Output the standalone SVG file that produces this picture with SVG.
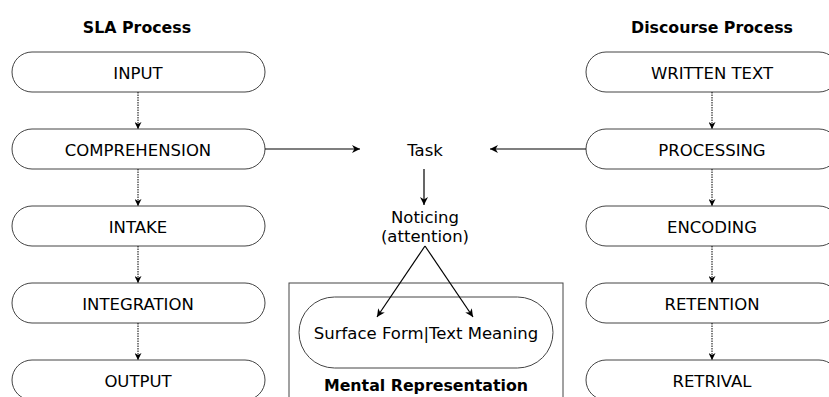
<svg xmlns="http://www.w3.org/2000/svg" width="829" height="397" viewBox="0 0 829 397">
<defs>
<marker id="dh" viewBox="0 0 10 10" refX="10" refY="5" markerWidth="7" markerHeight="7" orient="auto" markerUnits="userSpaceOnUse">
<path d="M0,0 L10,5 L0,10 L3,5 Z" fill="#000"/>
</marker>
<marker id="sh" viewBox="0 0 10 10" refX="10" refY="5" markerWidth="8" markerHeight="8" orient="auto" markerUnits="userSpaceOnUse">
<path d="M0,0 L10,5 L0,10 L3,5 Z" fill="#000"/>
</marker>
</defs>
<style>
.box{fill:#fff;stroke:#444;stroke-width:1}
.t{font-family:"DejaVu Sans",Verdana,sans-serif;font-size:16.5px;fill:#000;text-anchor:middle}
.b{font-family:"DejaVu Sans",Verdana,sans-serif;font-size:15.8px;font-weight:bold;fill:#000;text-anchor:middle}
.dot{stroke:#000;stroke-width:1;stroke-dasharray:1.5,1;fill:none}
.ar{stroke:#000;stroke-width:1.2;fill:none}
</style>
<rect width="829" height="397" fill="#fff"/>
<text class="b" x="137" y="33">SLA Process</text>
<text class="b" x="712" y="33">Discourse Process</text>

<g id="mental-rep">
<rect x="289" y="283" width="274" height="130" fill="#fff" stroke="#444" stroke-width="1"/>
<text class="b" x="426" y="391">Mental Representation</text>
</g>
<g id="surface">
<rect class="box" x="299" y="297" width="254" height="71" rx="35.5"/>
<text class="t" x="426" y="339">Surface Form|Text Meaning</text>
</g>

<g id="input"><rect class="box" x="12" y="52" width="253" height="40" rx="20"/><text class="t" x="138" y="79">INPUT</text></g>
<g id="comprehension"><rect class="box" x="12" y="129" width="253" height="40" rx="20"/><text class="t" x="138" y="156">COMPREHENSION</text></g>
<g id="intake"><rect class="box" x="12" y="206" width="253" height="40" rx="20"/><text class="t" x="138" y="233">INTAKE</text></g>
<g id="integration"><rect class="box" x="12" y="283" width="253" height="40" rx="20"/><text class="t" x="138" y="310">INTEGRATION</text></g>
<g id="output"><rect class="box" x="12" y="360" width="253" height="40" rx="20"/><text class="t" x="138" y="387">OUTPUT</text></g>

<g id="written"><rect class="box" x="586" y="52" width="253" height="40" rx="20"/><text class="t" x="712" y="79">WRITTEN TEXT</text></g>
<g id="processing"><rect class="box" x="586" y="129" width="253" height="40" rx="20"/><text class="t" x="712" y="156">PROCESSING</text></g>
<g id="encoding"><rect class="box" x="586" y="206" width="253" height="40" rx="20"/><text class="t" x="712" y="233">ENCODING</text></g>
<g id="retention"><rect class="box" x="586" y="283" width="253" height="40" rx="20"/><text class="t" x="712" y="310">RETENTION</text></g>
<g id="retrival"><rect class="box" x="586" y="360" width="253" height="40" rx="20"/><text class="t" x="712" y="387">RETRIVAL</text></g>

<g id="task"><text class="t" x="425" y="156">Task</text></g>
<g id="noticing"><text class="t" x="425" y="223">Noticing</text><text class="t" x="425" y="242">(attention)</text></g>

<g id="connectors">
<line class="dot" x1="138" y1="92" x2="138" y2="129" marker-end="url(#dh)"/>
<line class="dot" x1="138" y1="169" x2="138" y2="206" marker-end="url(#dh)"/>
<line class="dot" x1="138" y1="246" x2="138" y2="283" marker-end="url(#dh)"/>
<line class="dot" x1="138" y1="323" x2="138" y2="360" marker-end="url(#dh)"/>
<line class="dot" x1="712" y1="92" x2="712" y2="129" marker-end="url(#dh)"/>
<line class="dot" x1="712" y1="169" x2="712" y2="206" marker-end="url(#dh)"/>
<line class="dot" x1="712" y1="246" x2="712" y2="283" marker-end="url(#dh)"/>
<line class="dot" x1="712" y1="323" x2="712" y2="360" marker-end="url(#dh)"/>
<line class="ar" x1="265" y1="149" x2="360" y2="149" marker-end="url(#sh)"/>
<line class="ar" x1="586" y1="149" x2="490" y2="149" marker-end="url(#sh)"/>
<line class="ar" x1="424" y1="169" x2="424" y2="205" marker-end="url(#sh)"/>
<line class="ar" x1="425" y1="246" x2="377" y2="317" marker-end="url(#sh)"/>
<line class="ar" x1="425" y1="246" x2="473" y2="317" marker-end="url(#sh)"/>
</g>
</svg>
